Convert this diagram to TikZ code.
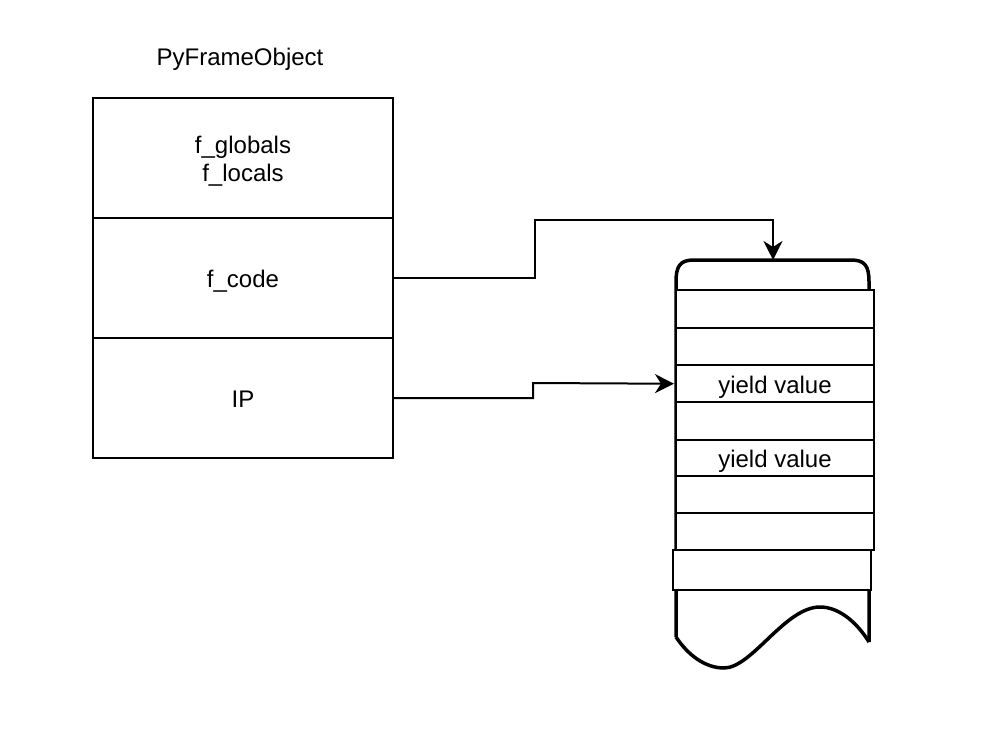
\documentclass[tikz,border=0pt]{standalone}
\usepackage{fontspec}
\setmainfont{Liberation Sans}
\usetikzlibrary{arrows.meta}
\begin{document}
\begin{tikzpicture}[x=1pt,y=-1pt,
  every node/.style={font=\fontsize{24}{28}\selectfont, inner sep=0pt, outer sep=0pt},
  oneline/.style={text height=22pt, text depth=3pt},
  cellbox/.style={draw, line width=2pt, minimum width=300pt, minimum height=120pt, align=center},
  rowbox/.style={draw, fill=white, line width=2pt, minimum width=198pt, minimum height=37.5pt,
    anchor=north west, oneline},
  tapeline/.style={line width=3.5pt, line join=round},
  link/.style={line width=2pt, shorten >=2pt, -{Stealth[length=19pt,width=19pt,inset=6pt]}}]
\useasboundingbox (0,0) rectangle (1000,738);

% frame object
\node (title) at (240,59) {PyFrameObject};
\node[cellbox, text height=50pt, text depth=2pt] (cellA) at (243,158) {f\_globals\\f\_locals};
\node[cellbox, oneline] (cellB) at (243,278) {f\_code};
\node[cellbox, oneline] (cellC) at (243,398) {IP};

% code tape outline
\draw[tapeline] (676,637) -- (676,282)
  .. controls (676,266) and (680,260) .. (694,260) -- (851,260)
  .. controls (865,260) and (869,266) .. (869,282) -- (869,642);
\draw[tapeline] (676,637) .. controls (688,655) and (705,668) .. (724,668)
  .. controls (752,668) and (785,607) .. (820,607)
  .. controls (840,607) and (858,624) .. (869,642);
\coordinate (tapetop) at (773,262);

% instruction rows
\node[rowbox] (r1) at (676,290) {};
\node[rowbox] (r2) at (676,327.5) {};
\node[rowbox] (r3) at (676,365) {yield value};
\node[rowbox] (r4) at (676,402) {};
\node[rowbox] (r5) at (676,439.5) {yield value};
\node[rowbox] (r6) at (676,476) {};
\node[rowbox] (r7) at (676,512.5) {};
\node[rowbox, minimum height=40pt] (r8) at (673,550) {};

% connectors
\draw[link] (cellB.east) -- (535,278) -- (535,220) -- (773,220) -- (tapetop);
\draw[link] (cellC.east) -- (533,398) -- (533,383) -- (r3.west);
\end{tikzpicture}
\end{document}
